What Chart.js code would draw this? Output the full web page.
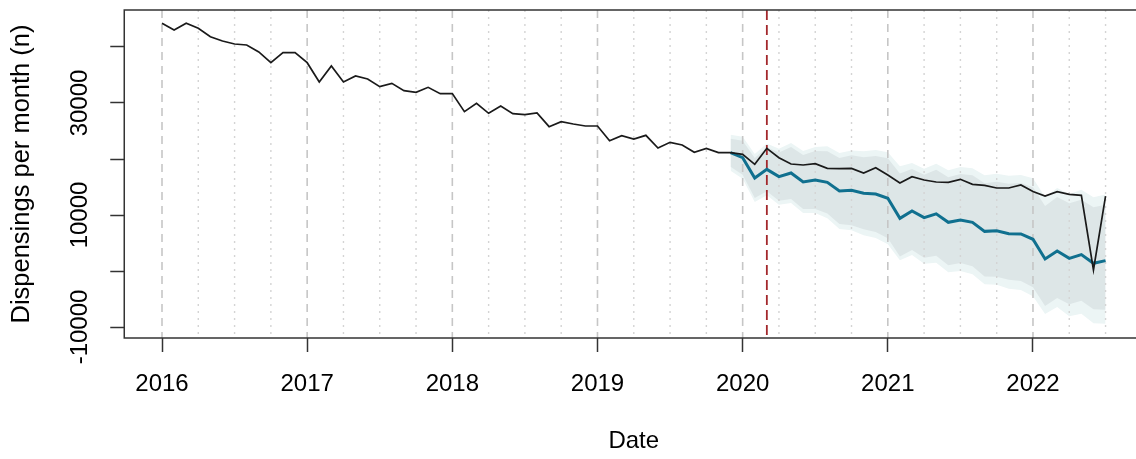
<!DOCTYPE html>
<html>
<head>
<meta charset="utf-8">
<script src="https://cdn.jsdelivr.net/npm/chart.js@4.4.1/dist/chart.umd.min.js"></script>
<style>
html,body{margin:0;padding:0;background:#fff;overflow:hidden;}
#wrap{width:1160px;height:459px;position:relative;}
</style>
</head>
<body>
<div id="wrap"><canvas id="c" width="1160" height="459"></canvas></div>
<script>
// ---- data (monthly, Jan 2016 .. Jul 2022) ----
const dates = [];
for (let i = 0; i < 79; i++) {
  const yr = 2016 + Math.floor(i / 12), mo = (i % 12) + 1;
  dates.push(yr + '-' + String(mo).padStart(2, '0'));
}
const observed = [
  44230,43040,44230,43340,41840,41070,40540,40360,39110,37200,38980,38980,
  37200,33750,36610,33750,34820,34290,32920,33510,32200,31900,32800,31670,
  31670,28450,29940,28160,29460,28100,27920,28210,25770,26670,26250,25890,
  25890,23270,24170,23570,24230,21960,22980,22500,21190,21900,21130,21130,
  20830,19050,21900,20240,19110,18930,19170,18330,18270,18330,17500,18450,
  17140,15710,16850,16250,15890,15830,16370,15480,15300,14820,14820,15360,
  14200,13390,14170,13690,13510,180,13390
];
const forecastStart = 47; // Dec 2019
const expected = [21130,20240,16610,18150,16850,17500,15890,16250,15830,14290,14400,13870,13750,12980,9400,10710,9520,10210,8690,9110,8690,7080,7200,6670,6610,5660,2140,3570,2260,2920,1370,1850];
const outerUpper = [24340,23990,20900,22790,21850,22860,21430,22140,22260,21080,21540,21370,21610,21190,18700,19280,18270,19140,17980,18570,18330,17080,17380,17030,17150,16550,13210,14820,13690,14530,13160,13640];
const innerUpper = [23630,23280,20180,22080,21140,22140,20710,21430,21370,20180,20650,20300,20540,20120,17400,18210,17200,18070,16730,17320,17080,15650,15950,15600,15720,14950,11600,13210,12080,12740,11370,11850];
const innerLower = [18630,17200,13040,14220,12560,12860,11070,11070,10290,8400,8150,7440,6960,5840,2610,3750,2380,2710,1010,1430,830,-960,-1010,-1540,-1780,-2910,-6250,-4820,-5950,-5290,-6840,-6900];
const outerLower = [17920,16490,12320,13510,11850,12140,10350,10360,9400,7500,7260,6370,5890,4770,1900,2850,1310,1460,-240,0,-600,-2380,-2440,-3150,-3390,-4520,-7680,-6430,-8100,-7620,-9340,-9400];
const interventionIndex = 50; // Mar 2020
const yearTickMonths = [0,12,24,36,48,60,72];
const yearLabels = ['2016','2017','2018','2019','2020','2021','2022'];
const yTicks = [-10000,0,10000,20000,30000,40000];
const yTickLabels = ['-10000','','10000','','30000',''];

// ---- build ----
const obsPts = observed.map((v,i)=>({x:i,y:v}));
const fc = arr => arr.map((v,i)=>({x:i+forecastStart,y:v}));
const FONT = '"Liberation Sans", Arial, Helvetica, sans-serif';
const NONE = 'rgba(0,0,0,0)';

const framePlugin = {
  id: 'frame',
  beforeDatasetsDraw(chart) {
    const {ctx, chartArea: a, scales: {x}} = chart;
    ctx.save();
    for (let m = 0; m < dates.length; m += 3) {
      const px = x.getPixelForValue(m);
      ctx.beginPath();
      if (m % 12 === 0) { ctx.setLineDash([8,6]); ctx.strokeStyle = '#c6c6c6'; ctx.lineWidth = 1.6; }
      else { ctx.setLineDash([2,5]); ctx.strokeStyle = '#d4d4d4'; ctx.lineWidth = 1.4; }
      ctx.moveTo(px, a.top); ctx.lineTo(px, a.bottom); ctx.stroke();
    }
    const rx = x.getPixelForValue(interventionIndex);
    ctx.beginPath();
    ctx.setLineDash([10,5]); ctx.strokeStyle = '#a3282c'; ctx.lineWidth = 1.8;
    ctx.moveTo(rx, a.top); ctx.lineTo(rx, a.bottom); ctx.stroke();
    ctx.restore();
  },
  afterDraw(chart) {
    const {ctx, chartArea: a} = chart;
    ctx.save();
    ctx.setLineDash([]);
    ctx.strokeStyle = '#333'; ctx.lineWidth = 1.5;
    ctx.strokeRect(a.left, a.top, a.right - a.left, a.bottom - a.top);
    ctx.restore();
  }
};

new Chart(document.getElementById('c'), {
  type: 'line',
  data: {
    datasets: [
      {label:'outer upper', data: fc(outerUpper), fill:'+1', backgroundColor:'#ecf5f5', borderColor:NONE, borderWidth:0, pointRadius:0, order:5},
      {label:'outer lower', data: fc(outerLower), fill:false, borderColor:NONE, borderWidth:0, pointRadius:0, order:5},
      {label:'inner upper', data: fc(innerUpper), fill:'+1', backgroundColor:'#dde6e7', borderColor:NONE, borderWidth:0, pointRadius:0, order:3},
      {label:'inner lower', data: fc(innerLower), fill:false, borderColor:NONE, borderWidth:0, pointRadius:0, order:3},
      {label:'Expected', data: fc(expected), fill:false, borderColor:'#10708f', borderWidth:3, pointRadius:0, order:1},
      {label:'Observed', data: obsPts, fill:false, borderColor:'#1a1a1a', borderWidth:1.7, pointRadius:0, order:0}
    ]
  },
  options: {
    responsive: false,
    devicePixelRatio: 1,
    animation: false,
    events: [],
    layout: {padding: {top: 10, left: 0, right: 16.7, bottom: 0}},
    plugins: {
      legend: {display: false},
      tooltip: {enabled: false},
      filler: {drawTime: 'beforeDatasetsDraw'}
    },
    scales: {
      x: {
        type: 'linear', min: -3.12, max: 81.12,
        afterBuildTicks: s => { s.ticks = yearTickMonths.map(v => ({value: v})); },
        afterFit: s => { s.height = 121; },
        grid: {drawOnChartArea: false, drawTicks: true, tickLength: 14, tickColor: '#333', tickWidth: 1.5, color: '#333'},
        border: {display: false},
        ticks: {autoSkip: false, minRotation: 0, maxRotation: 0, padding: 18, color: '#000',
          font: {family: FONT, size: 24},
          callback: v => { const i = yearTickMonths.indexOf(v); return i >= 0 ? yearLabels[i] : ''; }},
        title: {display: true, text: 'Date', color: '#000', font: {family: FONT, size: 24}, padding: {top: 0, bottom: 3}}
      },
      y: {
        type: 'linear', min: -11964, max: 46607,
        afterBuildTicks: s => { s.ticks = yTicks.map(v => ({value: v})); },
        afterFit: s => { s.width = 124.26; },
        grid: {drawOnChartArea: false, drawTicks: true, tickLength: 14, tickColor: '#333', tickWidth: 1.5, color: '#333'},
        border: {display: false},
        ticks: {autoSkip: false, minRotation: 90, maxRotation: 90, crossAlign: 'center', padding: -7, color: '#000',
          font: {family: FONT, size: 24},
          callback: v => { const i = yTicks.indexOf(v); return i >= 0 ? yTickLabels[i] : ''; }},
        title: {display: true, text: 'Dispensings per month (n)', color: '#000', font: {family: FONT, size: 25.5}, padding: {top: 6.7, bottom: 0}}
      }
    }
  },
  plugins: [framePlugin]
});
</script>
</body>
</html>
